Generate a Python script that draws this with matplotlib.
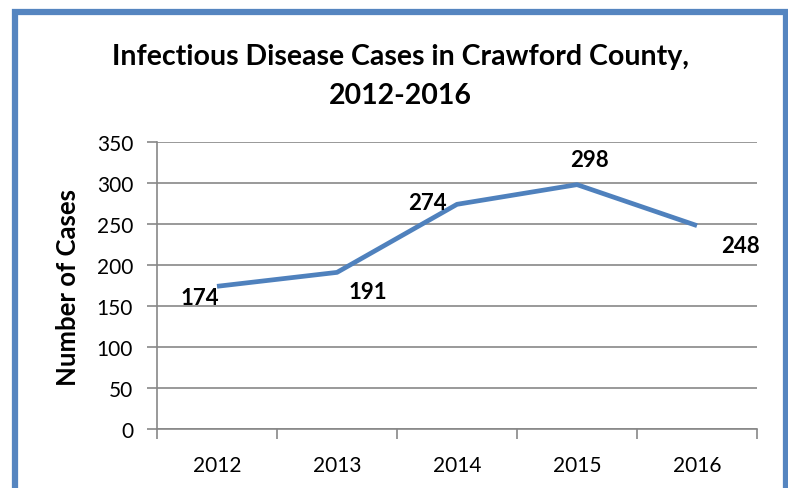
import matplotlib
matplotlib.use("Agg")
import matplotlib.pyplot as plt
from matplotlib.patches import Rectangle

years = ["2012", "2013", "2014", "2015", "2016"]
cases = [174, 191, 274, 298, 248]
yticks = [0, 50, 100, 150, 200, 250, 300, 350]
label_offsets = [(-12, -8), (22, -14), (-21, 1), (9, 18), (31, -14)]  # in points

plt.rcParams['font.family'] = ['Lato', 'DejaVu Sans']

W, H = 788, 489
fig = plt.figure(figsize=(W / 100, H / 100), dpi=100)
ax = fig.add_axes([157 / W, 1 - 430 / H, 600 / W, (430 - 143) / H])

x = list(range(len(years)))
ax.plot(x, cases, color="#4F81BD", lw=3.4, solid_capstyle="butt", zorder=3)
for xi, v, (dx, dy) in zip(x, cases, label_offsets):
    ax.annotate(str(v), (xi, v), xytext=(dx, dy), textcoords="offset points",
                ha="center", va="center", fontsize=16, fontweight="bold", color="black")

ax.set_xlim(-0.5, len(years) - 0.5)
ax.set_ylim(0, 350)
ax.set_yticks(yticks)
ax.set_yticklabels([str(t) for t in yticks], fontsize=15)
ax.set_xticks([i - 0.5 for i in range(len(years) + 1)], minor=False)
ax.set_xticklabels([])
ax.set_xticks(x, minor=True)
ax.set_xticklabels(years, minor=True, fontsize=15)
ax.tick_params(axis="x", which="minor", length=0, pad=19)
ax.tick_params(axis="x", which="major", length=7, color="#878787", width=1.2, direction="out")
ax.tick_params(axis="y", length=7.2, color="#878787", width=1.2, pad=10)
ax.grid(axis="y", color="#878787", lw=1.2)
ax.set_axisbelow(True)
for s in ["top", "right"]:
    ax.spines[s].set_visible(False)
for s in ["left", "bottom"]:
    ax.spines[s].set_color("#878787")
    ax.spines[s].set_linewidth(1.2)

ax.set_ylabel("Number of Cases", fontsize=18.5, fontweight="bold")
ax.yaxis.set_label_coords((80 - 157) / 600, (430 - 288) / 287)

fig.text(400 / W, 1 - 57 / H, "Infectious Disease Cases in Crawford County,",
         ha="center", va="center", fontsize=20.5, fontweight="bold")
fig.text(400 / W, 1 - 96 / H, "2012-2016",
         ha="center", va="center", fontsize=20.5, fontweight="bold")

# outer blue frame
fig.patches.append(Rectangle((15 / W, -0.1), (785.5 - 15) / W, 1.1 - 13 / H,
                             transform=fig.transFigure, fill=False,
                             edgecolor="#5585C0", lw=4.5, figure=fig))

fig.savefig("out.png", dpi=100)
